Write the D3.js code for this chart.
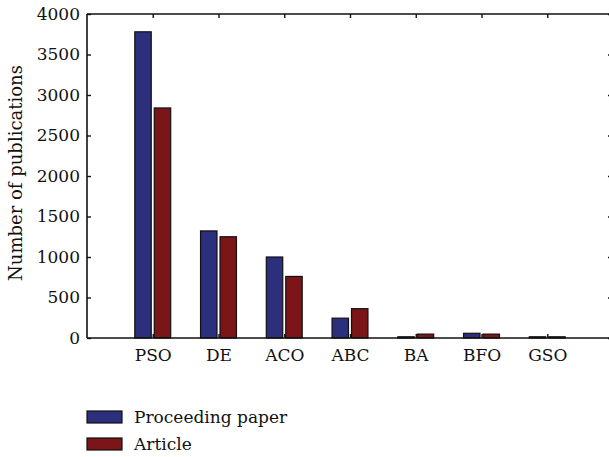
<!DOCTYPE html>
<html>
<head>
<meta charset="utf-8">
<script src="https://cdn.jsdelivr.net/npm/d3@7"></script>
<style>
  body { margin: 0; background: #fff; }
  svg { display: block; }
  text { font-family: "DejaVu Serif", "Liberation Serif", serif; fill: #111; }
</style>
</head>
<body>
<div id="chart"></div>
<script>
// data
const categories = ["PSO", "DE", "ACO", "ABC", "BA", "BFO", "GSO"];
const proceeding = [3780, 1322, 1000, 245, 15, 58, 15];
const article = [2840, 1250, 760, 362, 48, 48, 15];
const seriesNames = ["Proceeding paper", "Article"];
const yTicks = [0, 500, 1000, 1500, 2000, 2500, 3000, 3500, 4000];

const width = 609, height = 457;
const axL = 87, axT = 14, axR = 613, axB = 338;
const fs = 17;

const colors = ["#2c2f7b", "#7c1518"];

const svg = d3.select("#chart").append("svg")
  .attr("width", width)
  .attr("height", height);

// x as MATLAB style numeric axis 0..8, categories at 1..7
const xScale = d3.scaleLinear().domain([0, 8]).range([axL, axR]);
const yScale = d3.scaleLinear().domain([0, 4000]).range([axB, axT]);

const barW = 0.25, offs = 0.148;

const rows = categories.map((c, i) => ({ key: c, i: i + 1, vals: [proceeding[i], article[i]] }));

const plot = svg.append("g");

// bars
rows.forEach(r => {
  r.vals.forEach((v, s) => {
    const x0 = xScale(r.i + (s === 0 ? -offs : offs) - barW / 2);
    const x1 = xScale(r.i + (s === 0 ? -offs : offs) + barW / 2);
    plot.append("rect")
      .attr("x", x0)
      .attr("y", yScale(v))
      .attr("width", x1 - x0)
      .attr("height", yScale(0) - yScale(v))
      .attr("fill", colors[s])
      .attr("stroke", "#111")
      .attr("stroke-width", 1.2);
  });
});

// axes, ticks inward
const catTicks = rows.map(r => r.i);

const yLeft = svg.append("g")
  .attr("transform", `translate(${axL},0)`)
  .call(d3.axisLeft(yScale).tickValues(yTicks).tickSize(-4).tickPadding(7).tickFormat(d3.format("d")));
const yRight = svg.append("g")
  .attr("transform", `translate(${axR},0)`)
  .call(d3.axisRight(yScale).tickValues(yTicks).tickSize(-5).tickFormat(""));
const xBottom = svg.append("g")
  .attr("transform", `translate(0,${axB})`)
  .call(d3.axisBottom(xScale).tickValues(catTicks).tickSize(-4).tickPadding(11)
    .tickFormat(d => categories[d - 1]));
const xTop = svg.append("g")
  .attr("transform", `translate(0,${axT})`)
  .call(d3.axisTop(xScale).tickValues(catTicks).tickSize(-4).tickFormat(""));

[yLeft, yRight, xBottom, xTop].forEach(g => {
  g.selectAll(".domain").attr("stroke", "#111").attr("stroke-width", 1.6);
  g.selectAll(".tick line").attr("stroke", "#111").attr("stroke-width", 1.4);
  g.selectAll(".tick text").attr("font-size", fs).attr("fill", "#111")
    .style("font-family", "'DejaVu Serif', serif");
});
// the MATLAB-style box has no outer ticks
yLeft.select(".domain").attr("d", `M0,${axT}V${axB}`);
yRight.select(".domain").attr("d", `M0,${axT}V${axB}`);
xBottom.select(".domain").attr("d", `M${axL},0H${axR}`);
xTop.select(".domain").attr("d", `M${axL},0H${axR}`);

// y label
svg.append("text")
  .attr("transform", `translate(22,${(axT + axB) / 2 - 3}) rotate(-90)`)
  .attr("text-anchor", "middle")
  .attr("font-size", 18)
  .text("Number of publications");

// legend
const legend = svg.append("g").attr("transform", "translate(87,411)");
seriesNames.forEach((name, s) => {
  const g = legend.append("g").attr("transform", `translate(0,${s * 27})`);
  g.append("rect")
    .attr("width", 35).attr("height", 12)
    .attr("fill", colors[s])
    .attr("stroke", "#111").attr("stroke-width", 1.2);
  g.append("text")
    .attr("x", 47).attr("y", 12)
    .attr("font-size", fs)
    .text(name);
});
</script>
</body>
</html>
